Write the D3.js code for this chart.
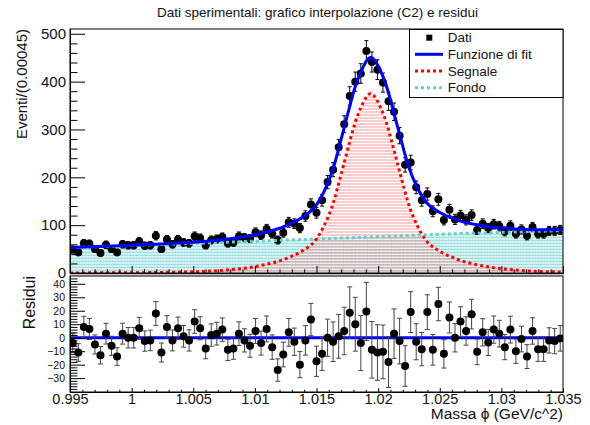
<!DOCTYPE html>
<html>
<head>
<meta charset="utf-8">
<script src="https://cdn.jsdelivr.net/npm/d3@7"></script>
<style>
body { margin: 0; background: #fff; }
svg { font-family: "Liberation Sans", Arial, Helvetica, sans-serif; }
</style>
</head>
<body>
<div id="chart-area"></div>
<script>
// histogram binning
var massMin = 0.995, massMax = 1.035, nBins = 89;

// events per bin
var counts = [
  49, 43, 62, 61, 50, 42, 59, 50, 43, 60,
  58, 58, 66, 57, 58, 78, 50, 70, 60, 70,
  64, 62, 77, 73, 58, 69, 71, 75, 62, 64,
  77, 74, 72, 85, 79, 92, 82, 69, 84, 106,
  103, 94, 119, 143, 126, 152, 190, 216, 263, 311,
  370, 400, 417, 464, 441, 425, 398, 359, 337, 287,
  226, 231, 179, 152, 165, 129, 154, 111, 132, 112,
  120, 111, 121, 90, 103, 94, 102, 98, 87, 99,
  82, 91, 78, 96, 82, 82, 88, 88, 90
];

// data - fit per bin
var residuals = [
  -4, -11, 8, 6.5, -5, -13, 3, -6, -14, 3,
  0, 0, 7, -2.5, -2, 18, -11, 8, -2, 7,
  1, -2, 12, 7, -8, 2, 3, 6, -9, -8,
  3, -2, -6, 5, -4, 6.5, -7, -24, -12.5, 4,
  -3, -20, -2, 13.5, -17.5, -12, 0, -3, 1, 5,
  18.5, 10, -4, 19.5, -9, -11, -10.5, -18, 3, -2.5,
  -21, 19, -3, -8.5, 19, -9, 25, -12, 15, 0,
  12, 5, 17.5, -10.5, 4, -3.5, 6, 3, -7, 6,
  -10, -1, -14, 5, -8.5, -8.5, -2, -2.5, -0.5
];

// fitted curves sampled along the mass axis
var curveMass = [
  0.995, 0.999, 1.0032, 1.0056, 1.008, 1.0097, 1.0109, 1.0121, 1.0129, 1.0139,
  1.0149, 1.0156, 1.0164, 1.0169, 1.0173, 1.0177, 1.0181, 1.0186, 1.0194, 1.0202,
  1.0207, 1.0211, 1.0215, 1.0219, 1.0224, 1.0232, 1.0239, 1.0249, 1.0259, 1.0267,
  1.0279, 1.0291, 1.0308, 1.0332, 1.035
];
var fitCurve = [
  53.2, 57.1, 61.9, 65.5, 71.7, 78.2, 85.3, 94.4, 103.1, 117,
  138.9, 169.6, 222.4, 269.9, 309.3, 348.7, 386.1, 420.6, 450.4, 422.2,
  388.7, 352.1, 313.5, 274.9, 228.4, 177.2, 147.9, 127.9, 115.7, 108.4,
  101.3, 96.3, 92.6, 90.2, 90.7
];
var signalCurve = [
  0.2, 0.5, 1.5, 3, 7, 12, 18, 26, 34, 47,
  68, 98, 150, 197, 236, 275, 312, 346, 375, 346,
  312, 275, 236, 197, 150, 98, 68, 47, 34, 26,
  18, 12, 7, 3, 2.2
];
var bkgCurve = [
  53, 56.6, 60.4, 62.5, 64.7, 66.2, 67.3, 68.4, 69.1, 70,
  70.9, 71.6, 72.4, 72.9, 73.3, 73.7, 74.1, 74.6, 75.4, 76.2,
  76.7, 77.1, 77.5, 77.9, 78.4, 79.2, 79.9, 80.9, 81.7, 82.4,
  83.3, 84.3, 85.6, 87.2, 88.5
];

// axis ticks
var xTickValues = [0.995, 1, 1.005, 1.01, 1.015, 1.02, 1.025, 1.03, 1.035];
var xTickLabels = ["0.995", "1", "1.005", "1.01", "1.015", "1.02", "1.025", "1.03", "1.035"];
var yTickValues = [0, 100, 200, 300, 400, 500];
var resTickValues = [-30, -20, -10, 0, 10, 20, 30, 40];

var legendLabels = ["Dati", "Funzione di fit", "Segnale", "Fondo"];

var width = 590, height = 425;
var left = 70, right = 563;
var top1 = 29, bot1 = 273;
var top2 = 276, bot2 = 392;

var binWidth = (massMax - massMin) / nBins;
var bins = counts.map(function(c, i){
  return { m: massMin + (i + 0.5) * binWidth, c: c, e: Math.sqrt(c), r: residuals[i] };
});
var curves = curveMass.map(function(m, i){
  return { m: m, fit: fitCurve[i], sig: signalCurve[i], bkg: bkgCurve[i] };
});

var svg = d3.select("#chart-area")
  .append("svg")
    .attr("width", width)
    .attr("height", height);

svg.append("rect").attr("width", width).attr("height", height).attr("fill", "#fff");

var x = d3.scaleLinear().domain([massMin, massMax]).range([left, right]);
var y = d3.scaleLinear().domain([0, 510]).range([bot1, top1]);
var yr = d3.scaleLinear().domain([-40.3, 45.8]).range([bot2, top2]);

// fill patterns
var defs = svg.append("defs");
var pb = defs.append("pattern").attr("id", "bkgFill")
  .attr("patternUnits", "userSpaceOnUse").attr("width", 3).attr("height", 3);
pb.append("rect").attr("width", 3).attr("height", 3).attr("fill", "#d8f3f3");
pb.append("rect").attr("width", 3).attr("height", 1).attr("fill", "#9edede");
pb.append("rect").attr("x", 1).attr("y", 2).attr("width", 1).attr("height", 1).attr("fill", "#b8e8e8");
var ps = defs.append("pattern").attr("id", "sigFill")
  .attr("patternUnits", "userSpaceOnUse").attr("width", 4).attr("height", 3);
ps.append("rect").attr("width", 4).attr("height", 2).attr("fill", "#ff8080").attr("fill-opacity", 0.4);
ps.append("rect").attr("y", 2).attr("width", 3).attr("height", 1).attr("fill", "#ffffff").attr("fill-opacity", 0.5);

defs.append("clipPath").attr("id", "clipTop")
  .append("rect").attr("x", left).attr("y", top1).attr("width", right - left).attr("height", bot1 - top1);
defs.append("clipPath").attr("id", "clipBot")
  .append("rect").attr("x", left).attr("y", top2).attr("width", right - left).attr("height", bot2 - top2);

// Title
svg.append("text")
  .attr("x", 317.5)
  .attr("y", 17)
  .attr("font-size", "13.5px")
  .attr("text-anchor", "middle")
  .attr("fill", "#111")
  .text("Dati sperimentali: grafico interpolazione (C2) e residui");

// ---------- upper pad ----------
var g1 = svg.append("g").attr("clip-path", "url(#clipTop)");

var areaOf = function(key){
  return d3.area()
    .x(function(d){ return x(d.m); })
    .y0(y(0))
    .y1(function(d){ return y(d[key]); })
    .curve(d3.curveMonotoneX);
};
var lineOf = function(key){
  return d3.line()
    .x(function(d){ return x(d.m); })
    .y(function(d){ return y(d[key]); })
    .curve(d3.curveMonotoneX);
};

g1.append("path").datum(curves).attr("d", areaOf("bkg")).attr("fill", "url(#bkgFill)");
g1.append("path").datum(curves).attr("d", areaOf("sig")).attr("fill", "url(#sigFill)");

// data points
var pts = g1.selectAll(".pt").data(bins).enter().append("g").attr("class", "pt");
pts.append("line")
  .attr("x1", function(d){ return x(d.m); }).attr("x2", function(d){ return x(d.m); })
  .attr("y1", function(d){ return y(d.c - d.e); }).attr("y2", function(d){ return y(d.c + d.e); })
  .attr("stroke", "#000").attr("stroke-width", 1);
pts.append("line")
  .attr("x1", function(d){ return x(d.m) - 2; }).attr("x2", function(d){ return x(d.m) + 2; })
  .attr("y1", function(d){ return y(d.c + d.e); }).attr("y2", function(d){ return y(d.c + d.e); })
  .attr("stroke", "#000");
pts.append("line")
  .attr("x1", function(d){ return x(d.m) - 2; }).attr("x2", function(d){ return x(d.m) + 2; })
  .attr("y1", function(d){ return y(d.c - d.e); }).attr("y2", function(d){ return y(d.c - d.e); })
  .attr("stroke", "#000");
pts.append("circle")
  .attr("cx", function(d){ return x(d.m); })
  .attr("cy", function(d){ return y(d.c); })
  .attr("r", 4)
  .attr("fill", "#000");

g1.append("path").datum(curves).attr("d", lineOf("bkg"))
  .attr("fill", "none").attr("stroke", "#66cccc").attr("stroke-width", 3).attr("stroke-dasharray", "3,3");
g1.append("path").datum(curves).attr("d", lineOf("sig"))
  .attr("fill", "none").attr("stroke", "#ff0000").attr("stroke-width", 3).attr("stroke-dasharray", "3,3");
g1.append("path").datum(curves).attr("d", lineOf("fit"))
  .attr("fill", "none").attr("stroke", "#0000ff").attr("stroke-width", 3);

// axes upper pad
var yAxisCall = d3.axisLeft(y).tickValues(yTickValues).tickSize(-15).tickSizeOuter(0).tickPadding(4);
var yAx = svg.append("g").attr("transform", "translate(" + left + ",0)").call(yAxisCall);
var yMinor = d3.range(0, 511, 20).filter(function(v){ return v % 100 !== 0; });
svg.append("g").attr("transform", "translate(" + left + ",0)")
  .call(d3.axisLeft(y).tickValues(yMinor).tickSize(-7.5).tickSizeOuter(0).tickFormat(""));

var xMinor = d3.range(0, 41).map(function(k){ return massMin + k * 0.001; })
  .filter(function(v, k){ return k % 5 !== 0; });
svg.append("g").attr("transform", "translate(0," + bot1 + ")")
  .call(d3.axisBottom(x).tickValues(xTickValues).tickSize(-7).tickSizeOuter(0).tickFormat(""));
svg.append("g").attr("transform", "translate(0," + bot1 + ")")
  .call(d3.axisBottom(x).tickValues(xMinor).tickSize(-3.7).tickSizeOuter(0).tickFormat(""));

svg.append("rect").attr("x", left).attr("y", top1).attr("width", right - left).attr("height", bot1 - top1)
  .attr("fill", "none").attr("stroke", "#000");
svg.append("line").attr("x1", left).attr("x2", right + 1).attr("y1", bot1 + 1.8).attr("y2", bot1 + 1.8)
  .attr("stroke", "#c8c8c8").attr("stroke-width", 1.5);

// Y Label
svg.append("text")
  .attr("transform", "translate(27," + top1 + ") rotate(-90)")
  .attr("font-size", "15px")
  .attr("text-anchor", "end")
  .attr("fill", "#111")
  .text("Eventi/(0.00045)");

// legend
var lg = svg.append("g");
lg.append("rect").attr("x", 409.5).attr("y", 29.5).attr("width", 153.5).attr("height", 68)
  .attr("fill", "#fff").attr("stroke", "#000");
var legendY = [37.7, 54.3, 71, 87.7];
legendLabels.forEach(function(t, i){
  lg.append("text").attr("x", 447.7).attr("y", legendY[i]).attr("dy", "0.35em")
    .attr("font-size", "13.5px").attr("fill", "#111").text(t);
});
lg.append("rect").attr("x", 426.3).attr("y", legendY[0] - 3).attr("width", 6).attr("height", 6).attr("fill", "#000");
lg.append("line").attr("x1", 415).attr("x2", 443).attr("y1", legendY[1]).attr("y2", legendY[1])
  .attr("stroke", "#0000ff").attr("stroke-width", 3);
lg.append("line").attr("x1", 415).attr("x2", 443).attr("y1", legendY[2]).attr("y2", legendY[2])
  .attr("stroke", "#ff0000").attr("stroke-width", 3).attr("stroke-dasharray", "3,3");
lg.append("line").attr("x1", 415).attr("x2", 443).attr("y1", legendY[3]).attr("y2", legendY[3])
  .attr("stroke", "#66cccc").attr("stroke-width", 3).attr("stroke-dasharray", "3,3");

// ---------- residual pad ----------
var g2 = svg.append("g").attr("clip-path", "url(#clipBot)");

g2.append("line").attr("x1", left).attr("x2", right).attr("y1", yr(0)).attr("y2", yr(0))
  .attr("stroke", "#0000ff").attr("stroke-width", 3);

var rp = g2.selectAll(".rp").data(bins).enter().append("g").attr("class", "rp");
rp.append("line")
  .attr("x1", function(d){ return x(d.m); }).attr("x2", function(d){ return x(d.m); })
  .attr("y1", function(d){ return yr(d.r - d.e); }).attr("y2", function(d){ return yr(d.r + d.e); })
  .attr("stroke", "#444");
rp.append("line")
  .attr("x1", function(d){ return x(d.m) - 2.5; }).attr("x2", function(d){ return x(d.m) + 2.5; })
  .attr("y1", function(d){ return yr(d.r + d.e); }).attr("y2", function(d){ return yr(d.r + d.e); })
  .attr("stroke", "#444");
rp.append("line")
  .attr("x1", function(d){ return x(d.m) - 2.5; }).attr("x2", function(d){ return x(d.m) + 2.5; })
  .attr("y1", function(d){ return yr(d.r - d.e); }).attr("y2", function(d){ return yr(d.r - d.e); })
  .attr("stroke", "#444");
rp.append("circle")
  .attr("cx", function(d){ return x(d.m); })
  .attr("cy", function(d){ return yr(d.r); })
  .attr("r", 4)
  .attr("fill", "#000");

svg.append("g").attr("transform", "translate(" + left + ",0)")
  .call(d3.axisLeft(yr).tickValues(resTickValues).tickSize(-15).tickSizeOuter(0).tickPadding(5)
    .tickFormat(function(d){ return d < 0 ? "\u2212" + (-d) : d; }))
  .selectAll("text").attr("font-size", "10.5px");
var resMinor = d3.range(-40, 46, 2).filter(function(v){ return v % 10 !== 0; });
svg.append("g").attr("transform", "translate(" + left + ",0)")
  .call(d3.axisLeft(yr).tickValues(resMinor).tickSize(-7.5).tickSizeOuter(0).tickFormat(""));

svg.append("g").attr("transform", "translate(0," + bot2 + ")")
  .call(d3.axisBottom(x).tickValues(xTickValues).tickSize(-4).tickSizeOuter(0).tickPadding(2)
    .tickFormat(function(d, i){ return xTickLabels[i]; }))
  .selectAll("text").attr("font-size", "14.5px");
svg.append("g").attr("transform", "translate(0," + bot2 + ")")
  .call(d3.axisBottom(x).tickValues(xMinor).tickSize(-2.2).tickSizeOuter(0).tickFormat(""));

svg.append("rect").attr("x", left).attr("y", top2).attr("width", right - left).attr("height", bot2 - top2)
  .attr("fill", "none").attr("stroke", "#000");

svg.selectAll(".tick text").attr("fill", "#111").attr("font-family", "'Liberation Sans', Arial, sans-serif");
yAx.selectAll("text").attr("font-size", "15px");

// X Label
svg.append("text")
  .attr("x", right)
  .attr("y", 418.5)
  .attr("font-size", "15.5px")
  .attr("text-anchor", "end")
  .attr("fill", "#111")
  .text("Massa \u03D5 (GeV/c^2)");

// residual Y label
svg.append("text")
  .attr("transform", "translate(35," + top2 + ") rotate(-90)")
  .attr("font-size", "16px")
  .attr("text-anchor", "end")
  .attr("fill", "#111")
  .text("Residui");
</script>
</body>
</html>
